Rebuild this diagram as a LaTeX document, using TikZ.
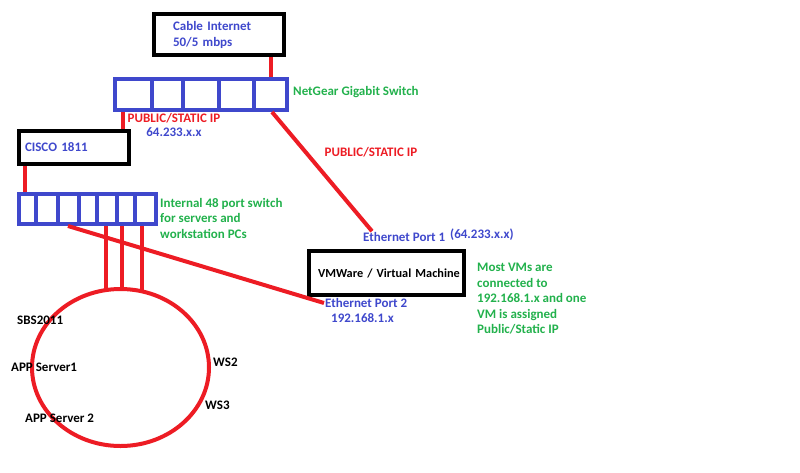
\documentclass[tikz,border=0pt]{standalone}
\usepackage{fontspec}
\setmainfont{Carlito}
\usetikzlibrary{positioning}
\usetikzlibrary{shapes.geometric}
\definecolor{pred}{RGB}{237,28,36}
\definecolor{pblue}{RGB}{63,72,204}
\definecolor{pgreen}{RGB}{34,177,76}

\begin{document}
\begin{tikzpicture}[x=1pt,y=-1pt,
  dev/.style={rectangle,draw=black,line width=4pt,inner ysep=0pt,
    anchor=north west,align=left,font=\fontsize{13}{16}\selectfont\bfseries},
  sw/.style={rectangle,draw=pblue,line width=4pt,inner sep=0pt,anchor=north west},
  swl/.style={draw=pblue,line width=4pt},
  wire/.style={draw=pred,line width=4pt},
  txt/.style={inner sep=1pt,align=left,font=\fontsize{13}{15.5}\selectfont\bfseries},
  bl/.style={txt,text=pblue},
  gr/.style={txt,text=pgreen},
  rd/.style={txt,text=pred},
  bk/.style={txt,text=black}
]
  \useasboundingbox (0,0) rectangle (800,472);

  \node[dev,text=pblue,inner xsep=19pt,text width=92pt,minimum height=41pt] (cable) at (152,12)
    {Cable Internet\\50/5 mbps};
  \node[sw,minimum width=172pt,minimum height=31pt] (netgear) at (113,77) {};
  \foreach \x in {152,183,219,254}
    \draw[swl] (\x,0 |- netgear.north) -- (\x,0 |- netgear.south);
  \node[gr,anchor=west] (ngtxt) at (292,92) {NetGear Gigabit Switch};

  \node[dev,text=pblue,inner xsep=6pt,text width=98pt,minimum height=33pt] (cisco) at (17,129)
    {CISCO 1811};
  \node[rd,align=center,font=\fontsize{13}{14}\selectfont\bfseries] (pub1) at (174,125)
    {PUBLIC/STATIC IP\\\textcolor{pblue}{64.233.x.x}};

  \node[sw,minimum width=137pt,minimum height=30pt] (lan) at (17,192) {};
  \foreach \x in {36,58,79,97,117,135}
    \draw[swl] (\x,0 |- lan.north) -- (\x,0 |- lan.south);
  \node[gr,anchor=north west] (lantxt) at (159,197)
    {Internal 48 port switch\\for servers and\\workstation PCs};

  \node[rd] (pub2) at (371,152) {PUBLIC/STATIC IP};

  \node[bl,anchor=west] (eth1) at (362,237) {Ethernet Port 1};
  \node[bl,anchor=west] (eth1ip) at (449,235) {(64.233.x.x)};
  \node[dev,inner xsep=9pt,text width=137pt,minimum height=44pt,
    font=\fontsize{12.3}{15}\selectfont\bfseries] (vm) at (307,249)
    {\mbox{VMWare / Virtual Machine}};
  \node[gr,anchor=north west] (vmtxt) at (476,262)
    {Most VMs are\\connected to\\192.168.1.x and one\\VM is assigned\\Public/Static IP};
  \node[bl,anchor=west] (eth2) at (324,303) {Ethernet Port 2};
  \node[bl,anchor=west] (eth2ip) at (330,318) {192.168.1.x};

  \node[ellipse,draw=pred,line width=4pt,minimum width=177pt,minimum height=157pt] (ring)
    at (120.5,367.5) {};
  \node[bk,anchor=west] (sbs) at (16,320) {SBS2011};
  \node[bk,anchor=west] (app1) at (10,367) {APP Server1};
  \node[bk,anchor=west] (app2) at (24,418) {APP Server 2};
  \node[bk,anchor=west] (ws2) at (212,362) {WS2};
  \node[bk,anchor=west] (ws3) at (204,405) {WS3};

  \draw[wire] (cable.south -| 271,0) -- (netgear.north -| 271,0);
  \draw[wire] (netgear.south -| 123,0) -- (cisco.north -| 123,0);
  \draw[wire] (netgear.south -| 272,0) -- ([xshift=10pt]eth1.north west);
  \draw[wire] (cisco.south -| 25,0) -- (lan.north -| 25,0);
  \draw[wire] (lan.south -| 68,0) -- (eth2.west);
  \foreach \x in {106,122,142}
    \draw[wire] (lan.south -| \x,0) -- (\x,290);
\end{tikzpicture}
\end{document}
